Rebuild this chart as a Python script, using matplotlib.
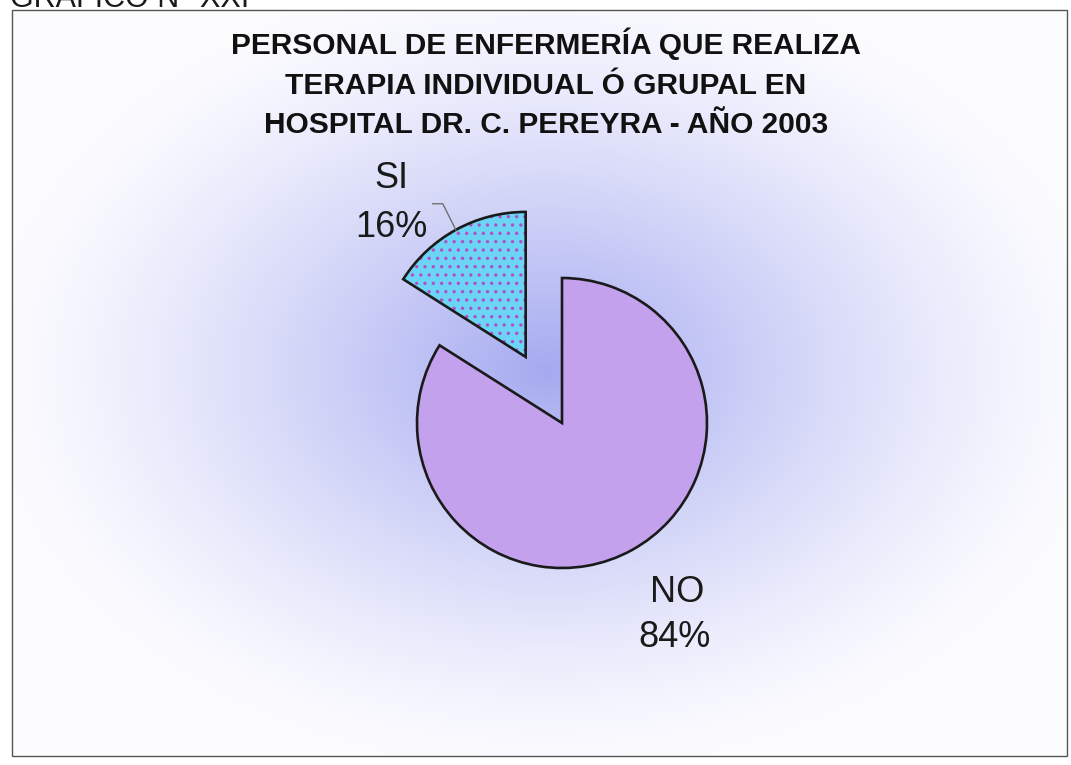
import numpy as np
import matplotlib
matplotlib.use('Agg')
import matplotlib.pyplot as plt
from matplotlib.patches import Rectangle

# data
labels = ['SI', 'NO']
percents = [16, 84]
colors = ['#6CD4F4', '#C3A1EC']
explode = [0.52, 0.0]

title_lines = ['PERSONAL DE ENFERMERÍA QUE REALIZA',
               'TERAPIA INDIVIDUAL Ó GRUPAL EN',
               'HOSPITAL DR. C. PEREYRA - AÑO 2003']
header = 'GRÁFICO N° XXI'

plt.rcParams['font.family'] = ['Liberation Sans', 'DejaVu Sans']
plt.rcParams['hatch.linewidth'] = 1.2

W, H = 1071, 765
CX, CY, R = 562, 423, 145   # pie centre / radius in pixels, y from top


def px(x, y):
    """pixel position (y from top) -> data coords of the pie axes"""
    return (x - CX) / R, (CY - y) / R


fig = plt.figure(figsize=(W / 100, H / 100), dpi=100)
ax = fig.add_axes([0, 0, 1, 1])
x0, y1 = px(0, 0)
x1, y0 = px(W, H)

# radial "from centre" fill of the chart area
gx, gy = np.meshgrid(np.arange(W), np.arange(H))
rr = np.sqrt(((gx - 548) / 560) ** 2 + ((gy - 370) / 400) ** 2)
t = np.clip(1 - rr, 0, 1) ** 1.3
c_out = np.array([252, 252, 255]) / 255
c_in = np.array([165, 170, 240]) / 255
img = c_out * (1 - t[..., None]) + c_in * t[..., None]
outside = (gx < 12) | (gx > 1067) | (gy < 10) | (gy > 756)
img[outside] = 1.0
ax.imshow(img, extent=(x0, x1, y0, y1), origin='upper', aspect='auto',
          zorder=0, interpolation='bilinear')

# chart frame
fx, fy = px(12, 756)
fx2, fy2 = px(1067, 10)
ax.add_patch(Rectangle((fx, fy), fx2 - fx, fy2 - fy, fill=False,
                       edgecolor='#555555', linewidth=1.0, zorder=1))

# fill + hatch pass, then outline pass
fills, _ = ax.pie(percents, explode=explode, colors=colors, startangle=90,
                  counterclock=True, radius=1, center=(0, 0),
                  wedgeprops=dict(edgecolor='#B050C8', linewidth=0, zorder=2))
fills[0].set_hatch('..')
fills[1].set_edgecolor(colors[1])
ax.pie(percents, explode=explode, startangle=90, counterclock=True,
       radius=1, center=(0, 0),
       wedgeprops=dict(fill=False, edgecolor='#1a1a1a', linewidth=1.9, zorder=3))

ax.set_xlim(x0, x1)
ax.set_ylim(y0, y1)
ax.set_aspect('auto')
ax.axis('off')

# leader line for SI
mid = np.deg2rad(90 + percents[0] / sum(percents) * 360 / 2)
ox, oy = explode[0] * np.cos(mid), explode[0] * np.sin(mid)
ex, ey = ox + np.cos(mid), oy + np.sin(mid)
ax.plot([ex, ex - 0.09, ex - 0.16], [ey, ey + 0.18, ey + 0.18],
        color='#707070', linewidth=1.0, zorder=4)

# data labels
sx, sy = px(391, 188)
ax.text(sx, sy, labels[0], fontsize=26, ha='center', va='baseline', color='#1a1a1a')
sx, sy = px(391, 237)
ax.text(sx, sy, f'{percents[0]}%', fontsize=26, ha='center', va='baseline', color='#1a1a1a')
nx, ny = px(677, 602)
ax.text(nx, ny, labels[1], fontsize=26, ha='center', va='baseline', color='#1a1a1a')
nx, ny = px(675, 647)
ax.text(nx, ny, f'{percents[1]}%', fontsize=26, ha='center', va='baseline', color='#1a1a1a')

# title
for line, base in zip(title_lines, [54, 94, 133]):
    tx, ty = px(546, base)
    ax.text(tx, ty, line, fontsize=21.5, fontweight='bold', ha='center',
            va='baseline', color='#111111')

# page header, cut off at the top as in the scan
hx, hy = px(10, 7)
ax.text(hx, hy, header, fontsize=22, ha='left', va='baseline', color='#1a1a1a',
        clip_on=False)

fig.savefig('out.png', dpi=100)
